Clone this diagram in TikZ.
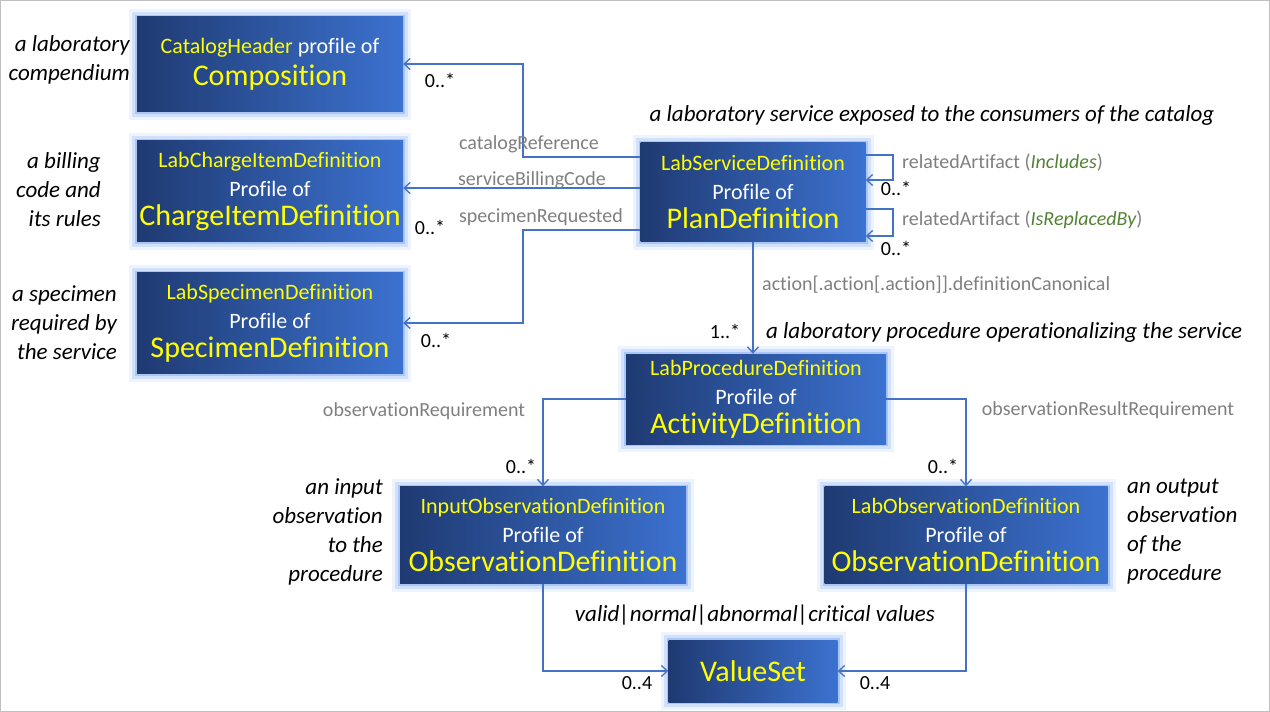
\documentclass[tikz,border=0pt]{standalone}
\usepackage{fontspec}
\setmainfont{Carlito}[Ligatures=NoCommon]
\usetikzlibrary{arrows.meta}
\definecolor{dk}{HTML}{1F3A72}
\definecolor{lt}{HTML}{3C72D0}
\definecolor{glowc}{HTML}{8FB4F5}
\definecolor{ln}{HTML}{4472C4}
\definecolor{yl}{HTML}{FFFF00}
\definecolor{gr}{HTML}{7F7F7F}
\definecolor{gn}{HTML}{548235}
\tikzset{
 box/.style={minimum width=#1, inner sep=0pt, align=center, text=white, left color=dk, right color=lt, shading angle=90,
  font=\fontsize{22}{29}\selectfont,
  preaction={draw=glowc, line width=16pt, opacity=0.15, rounded corners=6pt},
  preaction={draw=glowc, line width=10pt, opacity=0.3, rounded corners=4pt},
  preaction={draw=glowc, line width=4pt, opacity=0.6}},
 conn/.style={draw=ln, line width=1.3pt, -{Straight Barb[length=6pt,width=11pt]}},
 lab/.style={text=gr, font=\fontsize{20}{22}\selectfont, inner sep=1pt},
 mult/.style={text=black, font=\fontsize{20}{22}\selectfont, inner sep=1pt},
 ann/.style={text=black, font=\fontsize{23}{29}\selectfont\itshape, inner sep=0pt},
}
\newcommand{\ty}[1]{{\color{yl}\fontsize{22}{29}\selectfont #1}}
\newcommand{\tp}{Profile of}
\newcommand{\tb}[1]{{\color{yl}\fontsize{30}{29}\selectfont #1}}
\begin{document}
\begin{tikzpicture}[x=1pt,y=-1pt]
\useasboundingbox (0,0) rectangle (1270,712);
\draw[gray!50] (0.5,0.5) rectangle (1269.5,711.5);
% boxes
\node[box=266pt, minimum height=95pt] (comp) at (270,64) {\ty{CatalogHeader} profile of\\[3pt]\tb{Composition}};
\node[box=266pt, minimum height=101pt] (chg) at (270,191) {\ty{LabChargeItemDefinition}\\\tp\\\tb{ChargeItemDefinition}};
\node[box=266pt, minimum height=101pt] (spec) at (270,323) {\ty{LabSpecimenDefinition}\\\tp\\\tb{SpecimenDefinition}};
\node[box=225pt, minimum height=99pt] (plan) at (753,192) {\ty{LabServiceDefinition}\\\tp\\\tb{PlanDefinition}};
\node[box=260pt, minimum height=90pt] (act) at (756,399) {\ty{LabProcedureDefinition}\\\tp\\\tb{ActivityDefinition}};
\node[box=286pt, minimum height=97pt] (inp) at (543,535) {\ty{InputObservationDefinition}\\\tp\\\tb{ObservationDefinition}};
\node[box=283pt, minimum height=97pt] (out) at (966,535) {\ty{LabObservationDefinition}\\\tp\\\tb{ObservationDefinition}};
\node[box=169pt, minimum height=62pt] (vs) at (753,671) {\tb{ValueSet}};
% connectors
\coordinate (c1) at (523,157);
\draw[conn] (plan.west |- c1) -| (c1) |- (comp.east);
\draw[conn] (plan.west |- 0,188) -- (chg.east |- 0,188);
\coordinate (c3) at (523,230);
\draw[conn] (plan.west |- c3) -| (c3) |- (spec.east);
\draw[conn] (plan.east |- 0,155) -| (893,180) -- (plan.east |- 0,180);
\draw[conn] (plan.east |- 0,209) -| (893,236) -- (plan.east |- 0,236);
\draw[conn] (plan.south -| 753,0) -- (act.north -| 753,0);
\draw[conn] (act.west) -| (inp.north);
\draw[conn] (act.east) -| (out.north);
\draw[conn] (inp.south) |- (vs.west);
\draw[conn] (out.south) |- (vs.east);
% labels
\node[lab] at (529,144) {catalogReference};
\node[lab] at (532,180) {serviceBillingCode};
\node[lab] at (541,217) {specimenRequested};
\node[mult] at (440,80) {0..*};
\node[mult] at (430,227) {0..*};
\node[mult] at (436,340) {0..*};
\node[lab, anchor=west] at (901,163) {relatedArtifact ({\color{gn}\itshape Includes})};
\node[lab, anchor=west] at (901,220) {relatedArtifact ({\color{gn}\itshape IsReplacedBy})};
\node[mult] at (896,188) {0..*};
\node[mult] at (896,248) {0..*};
\node[lab, anchor=west] at (761,285) {action[.action[.action]].definitionCanonical};
\node[mult] at (725,331) {1..*};
\node[lab] at (424,411) {observationRequirement};
\node[lab] at (1108,410) {observationResultRequirement};
\node[mult] at (521,466) {0..*};
\node[mult] at (943,466) {0..*};
\node[mult] at (637,683) {0..4};
\node[mult] at (875,683) {0..4};
% annotations
\node[ann, align=right, anchor=east] at (130,60) {a laboratory\\compendium};
\node[ann, align=right, anchor=east] at (101,190) {a billing\\code and\\its rules};
\node[ann, align=right, anchor=east] at (117,323) {a specimen\\required by\\the service};
\node[ann] at (932,115) {a laboratory service exposed to the consumers of the catalog};
\node[ann, anchor=west] at (766,332) {a laboratory procedure operationalizing the service};
\node[ann, align=right, anchor=east] at (383,532) {an input\\observation\\to the\\procedure};
\node[ann, align=left, anchor=west] at (1127,532) {an output\\observation\\of the\\procedure};
\node[ann] at (755,615) {valid|normal|abnormal|critical values};
\end{tikzpicture}
\end{document}
